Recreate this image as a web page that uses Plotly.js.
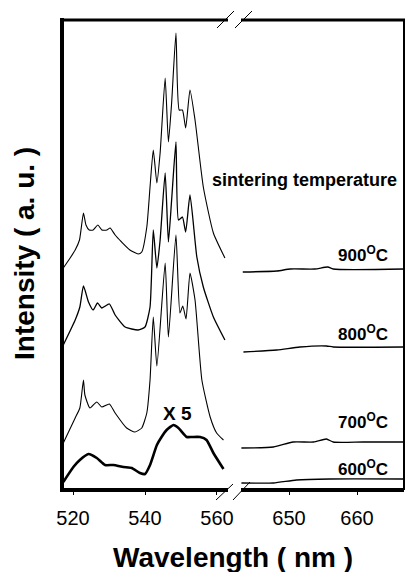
<!DOCTYPE html>
<html>
<head>
<meta charset="utf-8">
<script src="https://cdn.plot.ly/plotly-3.0.1.min.js"></script>
<style>html,body{margin:0;padding:0;background:#fff}#chart{width:405px;height:572px}</style>
</head>
<body>
<div id="chart"></div>
<script>
// Temperatures (series labels)
const temps = ["900", "800", "700", "600"];
// vertical stacking offsets of each spectrum (a.u.)
const offsets = [222, 145, 47, 8];

// 900 °C
const wl900L = [517.3,519.2,520.6,521.8,522.9,523.6,524.5,525.6,526.9,528.0,529.4,530.3,531.7,533.5,535.8,538.1,539.1,540.5,541.4,542.3,543.3,544.2,545.6,546.5,547.4,548.6,549.5,550.4,551.3,552.5,553.9,556.2,559.0,562.2];
const int900L = [0,10,18,28,55,43,38,38,43,38,38,40,33,26,18,14,16,41,81,118,85,115,190,126,165,235,158,158,140,178,148,81,35,10];
const wl900R = [643.2,648.2,650.2,653.8,655.7,656.5,667.0];
const int900R = [-4,-3,-1,-1,1,-1,-1];

// 800 °C
const wl800L = [517.3,520.6,521.9,522.9,524.3,525.6,526.8,528.0,530.1,531.7,534.5,538.1,540.0,541.4,542.3,543.3,544.2,545.6,546.5,547.4,548.6,549.3,550.4,551.3,552.5,554.4,556.2,559.0,562.2];
const int800L = [0,25,38,59,43,35,42,37,41,30,18,15,18,38,115,77,105,172,103,145,203,125,128,113,150,88,58,28,5];
const wl800R = [643.3,648.2,651.6,655.5,656.5,666.8];
const int800R = [-7,-5,-2,-1,-2,-2];

// 700 °C
const wl700L = [517.3,520.6,521.9,522.9,523.3,524.7,526.6,528.0,530.1,531.7,534.9,537.2,539.1,540.5,541.4,542.3,543.3,545.6,546.5,548.6,549.7,550.5,551.4,552.5,553.9,555.8,558.1,559.9,561.8];
const int700L = [0,25,35,63,48,35,41,36,39,30,15,11,15,30,63,126,77,180,106,208,130,137,124,170,143,63,26,10,3];
const wl700R = [643.0,647.7,650.6,653.6,655.5,656.5,660.9,666.8];
const int700R = [-5,-4,1,1,4,1,1,1];

// 600 °C (shown x 5)
const wl600L = [517.3,520.1,521.9,524.3,526.6,528.9,531.2,534.0,536.3,538.6,540.0,541.4,543.3,544.6,546.0,547.9,549.3,551.6,553.0,555.3,557.1,559.0,561.8];
const int600L = [0,15,22,28,24,17,17,15,14,9,8,17,37,45,52,57,54,45,45,45,42,29,13];
const wl600R = [643.0,647.7,651.1,656.0,666.8];
const int600R = [-1,-1,2,3,3];

const seriesL = [[wl900L,int900L],[wl800L,int800L],[wl700L,int700L],[wl600L,int600L]];
const seriesR = [[wl900R,int900R],[wl800R,int800R],[wl700R,int700R],[wl600R,int600R]];
const widthsL = [1.1, 1.3, 1.1, 2.6];
const widthsR = [1.3, 1.3, 1.3, 1.3];

const traces = [];
seriesL.forEach((s, i) => {
  traces.push({x: s[0], y: s[1].map(v => v + offsets[i]), xaxis: 'x', yaxis: 'y',
    mode: 'lines', line: {color: '#000', width: widthsL[i], shape: 'spline', smoothing: 0.5}, hoverinfo: 'skip'});
});
seriesR.forEach((s, i) => {
  traces.push({x: s[0], y: s[1].map(v => v + offsets[i]), xaxis: 'x2', yaxis: 'y',
    mode: 'lines', line: {color: '#000', width: widthsR[i], shape: 'spline', smoothing: 0.6}, hoverinfo: 'skip'});
});

const L = 62, W = 342, B = 490, H = 470;
const px = p => (p - L) / W;
const py = p => (B - p) / H;
const dEnd = px(228), dStart = px(241);
const fam = 'Arial, "Liberation Sans", sans-serif';

const axCommon = {showgrid: false, zeroline: false, showline: false,
  ticks: 'outside', ticklen: 4, tickwidth: 1, tickcolor: '#000',
  tickfont: {family: fam, size: 20, color: '#000'}, ticklabelstandoff: 6};

const line = (x0, y0, x1, y1, w) => ({type: 'line', xref: 'paper', yref: 'paper',
  x0: x0, y0: y0, x1: x1, y1: y1, line: {color: '#000', width: w}});

const shapes = [
  line(0, -0.004, 0, 1.004, 4),
  line(0, 0, dEnd, 0, 4),
  line(dStart, 0, 1, 0, 4),
  line(0, 1, dEnd, 1, 3),
  line(dStart, 1, 1.003, 1, 3),
  line(1, 0, 1, 1, 2),
  line(px(217), py(28), px(234), py(11), 1),
  line(px(235), py(28), px(252), py(11), 1),
  line(px(216), py(500), px(233), py(484), 1),
  line(px(233), py(500), px(250), py(482), 1)
];

const ann = (text, x, y, xa, size, extra) => Object.assign({text: text, xref: 'paper', yref: 'paper',
  x: x, y: y, xanchor: xa, yanchor: 'middle', showarrow: false,
  font: {family: fam, size: size, color: '#000'}}, extra || {});

const annotations = [
  ann('<b>sintering temperature</b>', px(399), py(180), 'right', 18),
  ann('<b>' + temps[0] + '<sup>O</sup>C</b>', px(390), py(254), 'right', 17),
  ann('<b>' + temps[1] + '<sup>O</sup>C</b>', px(390), py(333), 'right', 17),
  ann('<b>' + temps[2] + '<sup>O</sup>C</b>', px(390), py(421), 'right', 17),
  ann('<b>' + temps[3] + '<sup>O</sup>C</b>', px(390), py(468), 'right', 17),
  ann('<b>X 5</b>', px(177.5), py(413), 'center', 19),
  ann('<b>Wavelength ( nm )</b>', px(232.5), py(557), 'center', 28),
  ann('<b>Intensity ( a. u. )</b>', px(24), py(254), 'center', 28, {textangle: -90})
];

const layout = {
  width: 405, height: 572,
  margin: {l: L, r: 405 - L - W, t: 20, b: 572 - B},
  paper_bgcolor: '#fff', plot_bgcolor: 'rgba(0,0,0,0)',
  showlegend: false,
  xaxis: Object.assign({domain: [0, dEnd], range: [516.94, 563.06], tickvals: [520, 540, 560]}, axCommon),
  xaxis2: Object.assign({domain: [dStart, 1], range: [642.94, 666.91], tickvals: [650, 660], anchor: 'y'}, axCommon),
  yaxis: {range: [0, H], showticklabels: false, showgrid: false, zeroline: false, showline: false, ticks: ''},
  shapes: shapes,
  annotations: annotations
};

Plotly.newPlot('chart', traces, layout, {staticPlot: true, displayModeBar: false});
</script>
</body>
</html>
